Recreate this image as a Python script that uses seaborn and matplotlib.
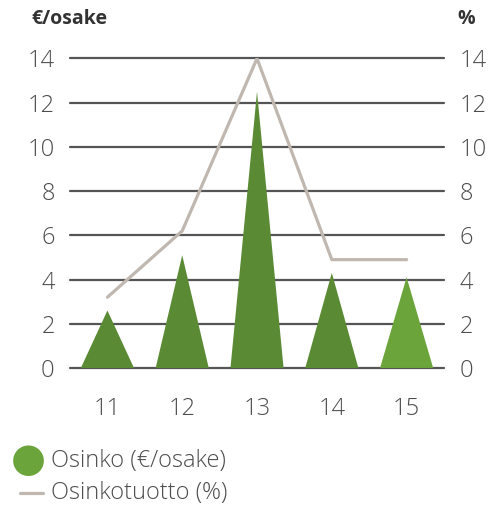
import numpy as np
import pandas as pd
import matplotlib
matplotlib.use("Agg")
import matplotlib.pyplot as plt
import seaborn as sns
from matplotlib.lines import Line2D

years = ['11', '12', '13', '14', '15']
osinko = [2.6, 5.1, 12.5, 4.3, 4.1]          # €/osake
osinkotuotto = [3.2, 6.2, 14.0, 4.9, 4.9]    # %
colors = ['#5b8a34', '#5b8a34', '#5b8a34', '#5b8a34', '#6ba43a']

df = pd.DataFrame({'vuosi': years, 'osinko': osinko, 'tuotto': osinkotuotto})

sns.set_style('white')
plt.rcParams['font.family'] = ['Open Sans', 'DejaVu Sans']
txt = '#4d4d4d'

fig = plt.figure(figsize=(4.91, 5.12), dpi=100)
ax = fig.add_axes([0.1426, 0.2813, 0.7617, 0.6045])

# triangles ("bars") for dividend per share
w = 0.71
for i, (v, c) in enumerate(zip(df['osinko'], colors)):
    ax.fill([i - w / 2, i, i + w / 2], [0, v, 0], color=c, lw=0, zorder=3)

ax.set_xlim(-0.5, 4.5)
ax.set_ylim(0, 14)
ax.set_yticks(range(0, 15, 2))
ax.set_xticks(range(len(years)))
ax.set_xticklabels(years)
for y in range(0, 15, 2):
    ax.axhline(y, color='#555555', lw=1.6, zorder=1, clip_on=False)

ax2 = ax.twinx()
sns.lineplot(x=np.arange(len(years)), y=df['tuotto'], ax=ax2, color='#c0b8b0', lw=2.3, zorder=4)
ax2.set_ylim(0, 14)
ax2.set_yticks(range(0, 15, 2))
ax2.set_ylabel('')
ax.set_zorder(ax2.get_zorder() - 1)
ax2.patch.set_visible(False)
ax.patch.set_visible(False)

for a in (ax, ax2):
    for s in a.spines.values():
        s.set_visible(False)
    a.tick_params(length=0, labelsize=17, colors=txt)
    for lab in a.get_xticklabels() + a.get_yticklabels():
        lab.set_fontweight('light')
ax.tick_params(axis='y', pad=11)
ax2.tick_params(axis='y', pad=11)
ax.tick_params(axis='x', pad=21)

fig.text(0.063, 0.962, '€/osake', fontsize=14, fontweight='bold', color='#333333', va='center')
fig.text(0.931, 0.962, '%', fontsize=14, fontweight='bold', color='#333333', va='center')

# legend
fig.text(0.022, 0.101, '●', fontsize=29, color='#6ba43a', va='center', ha='left',
         family=['DejaVu Sans'])
fig.text(0.104, 0.1, 'Osinko (€/osake)', fontsize=17, color=txt, va='center',
         fontweight='light')
fig.add_artist(Line2D([0.04, 0.088], [0.037, 0.037], color='#c0b8b0', lw=2.3,
                      transform=fig.transFigure))
fig.text(0.104, 0.037, 'Osinkotuotto (%)', fontsize=17, color=txt, va='center',
         fontweight='light')

fig.savefig('out.png', dpi=100)
